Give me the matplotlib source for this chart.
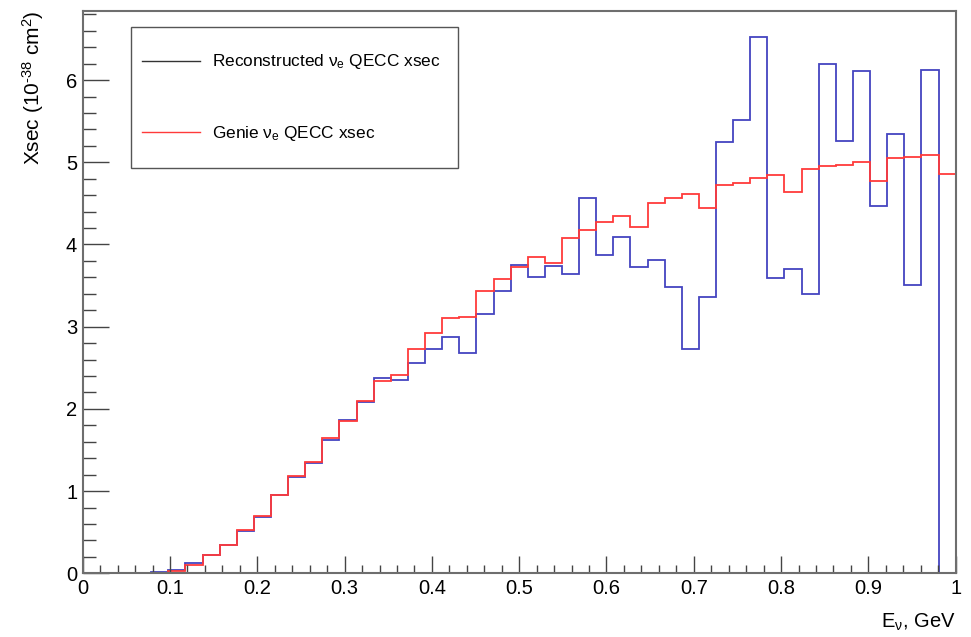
import numpy as np
import matplotlib
matplotlib.use('Agg')
import matplotlib.pyplot as plt
from matplotlib.patches import Rectangle
from matplotlib.ticker import MultipleLocator, FormatStrFormatter

# 51 bins on [0, 1] GeV
n_bins = 51
e_min, e_max = 0.0, 1.0

# reconstructed nu_e QECC cross section per bin, 1e-38 cm^2
reco_xsec = [
    0.0, 0.0, 0.0, 0.0, 0.01, 0.045, 0.12, 0.22, 0.34, 0.52,
    0.69, 0.95, 1.17, 1.34, 1.62, 1.865, 2.08, 2.37, 2.35, 2.56,
    2.73, 2.87, 2.68, 3.15, 3.44, 3.75, 3.61, 3.74, 3.645, 4.57,
    3.875, 4.085, 3.72, 3.81, 3.48, 2.73, 3.36, 5.25, 5.52, 6.53,
    3.59, 3.70, 3.40, 6.20, 5.26, 6.11, 4.47, 5.35, 3.51, 6.12,
    0.0,
]

# genie nu_e QECC cross section per bin
genie_xsec = [
    0.0, 0.0, 0.0, 0.0, 0.0, 0.03, 0.105, 0.22, 0.34, 0.53,
    0.70, 0.955, 1.18, 1.35, 1.64, 1.855, 2.09, 2.34, 2.41, 2.73,
    2.92, 3.11, 3.12, 3.44, 3.58, 3.73, 3.85, 3.77, 4.08, 4.18,
    4.27, 4.35, 4.21, 4.50, 4.56, 4.62, 4.44, 4.72, 4.75, 4.81,
    4.85, 4.64, 4.92, 4.95, 4.97, 5.00, 4.77, 5.05, 5.07, 5.09,
    4.86,
]

legend_labels = [
    'Reconstructed \u03bd$_\\mathrm{e}$ QECC xsec',
    'Genie \u03bd$_\\mathrm{e}$ QECC xsec',
]

BLUE = '#4444c0'
RED = '#ff3a3a'
FRAME = '#6e6e6e'


def setup_fonts():
    plt.rcParams['font.family'] = ['Liberation Sans', 'DejaVu Sans']
    plt.rcParams['mathtext.fontset'] = 'custom'
    plt.rcParams['mathtext.rm'] = 'Liberation Sans'
    plt.rcParams['mathtext.it'] = 'Liberation Sans:italic'
    plt.rcParams['mathtext.bf'] = 'Liberation Sans:bold'


def draw_legend(ax):
    '''
    ROOT-like legend box in the upper left corner.
    '''
    box = Rectangle((0.0553, 0.721), 0.3746, 0.251, transform=ax.transAxes,
                    facecolor='white', edgecolor='#555555', linewidth=1.0,
                    zorder=5)
    ax.add_patch(box)

    rows = [(0.9116, 0.9022, '#333333'), (0.7848, 0.7736, RED)]
    for (line_y, text_y, color), label in zip(rows, legend_labels):
        ax.plot([0.0679, 0.1344], [line_y, line_y], color=color,
                linewidth=1.0, transform=ax.transAxes, zorder=6)
        ax.text(0.1478, text_y, label, transform=ax.transAxes,
                fontsize=12.4, va='baseline', ha='left', zorder=6)


def main():
    setup_fonts()
    edges = np.linspace(e_min, e_max, n_bins + 1)

    fig = plt.figure(figsize=(9.71, 6.37), dpi=100)
    ax = fig.add_axes([0.0852, 0.1000, 0.8990, 0.8827])

    ax.stairs(reco_xsec, edges, baseline=None, color=BLUE, linewidth=1.3)
    ax.stairs(genie_xsec, edges, baseline=None, color=RED, linewidth=1.3)

    ax.set_xlim(e_min, e_max)
    ax.set_ylim(0, 6.84)

    ax.xaxis.set_major_locator(MultipleLocator(0.1))
    ax.xaxis.set_minor_locator(MultipleLocator(0.02))
    ax.yaxis.set_major_locator(MultipleLocator(1))
    ax.yaxis.set_minor_locator(MultipleLocator(0.2))
    ax.xaxis.set_major_formatter(FormatStrFormatter('%g'))
    ax.yaxis.set_major_formatter(FormatStrFormatter('%g'))

    ax.tick_params(axis='both', which='both', direction='in', colors='#444444',
                   width=1.0, labelsize=14.5, labelcolor='black', pad=4)
    ax.tick_params(axis='x', which='major', length=12)
    ax.tick_params(axis='x', which='minor', length=5.5)
    ax.tick_params(axis='y', which='major', length=19)
    ax.tick_params(axis='y', which='minor', length=9.5)

    for side in ax.spines.values():
        side.set_color(FRAME)
        side.set_linewidth(1.5)

    ax.set_xlabel('E$_\\mathrm{\u03bd}$, GeV', fontsize=14.5, ha='right')
    ax.xaxis.set_label_coords(1.0, -0.068)
    # hyphen instead of mathtext minus in the exponent
    ax.set_ylabel('Xsec (10$^{\u201038}$ cm$^{2}$)', fontsize=15, ha='right')
    ax.yaxis.set_label_coords(-0.042, 1.0)

    draw_legend(ax)

    fig.savefig('out.png', dpi=100)


if __name__ == '__main__':
    main()
